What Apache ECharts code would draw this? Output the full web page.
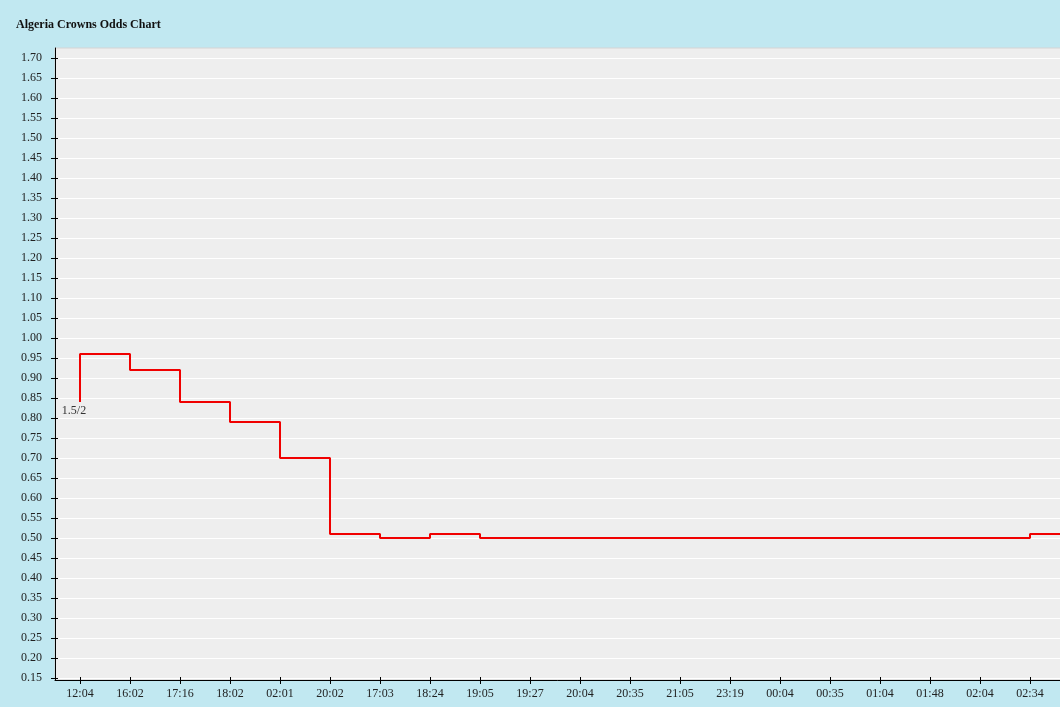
<!DOCTYPE html>
<html>
<head>
<meta charset="utf-8">
<script src="https://cdn.jsdelivr.net/npm/echarts@6/dist/echarts.min.js"></script>
<style>
html,body{margin:0;padding:0;background:#c1e8f1;}
#chart{width:1060px;height:707px;}
</style>
</head>
<body>
<div id="chart"></div>
<script>
const titleText = 'Algeria Crowns Odds Chart';
// 21st category lies beyond the right edge of the picture (its label is not visible)
const categories = ['12:04','16:02','17:16','18:02','02:01','20:02','17:03','18:24','19:05','19:27','20:04','20:35','21:05','23:19','00:04','00:35','01:04','01:48','02:04','02:34',''];
const oddsValues = [0.84,0.96,0.92,0.84,0.79,0.70,0.51,0.50,0.51,0.50,0.50,0.50,0.50,0.50,0.50,0.50,0.50,0.50,0.50,0.50,0.51];
const pointLabels = ['1.5/2'];
const yTicks = [0.15,0.20,0.25,0.30,0.35,0.40,0.45,0.50,0.55,0.60,0.65,0.70,0.75,0.80,0.85,0.90,0.95,1.00,1.05,1.10,1.15,1.20,1.25,1.30,1.35,1.40,1.45,1.50,1.55,1.60,1.65,1.70];

const FONT = '"Liberation Serif", "Times New Roman", serif';
const chart = echarts.init(document.getElementById('chart'), null, {renderer: 'canvas'});

const seriesData = oddsValues.map((v, i) => {
  if (i < pointLabels.length && pointLabels[i]) {
    return {
      value: v,
      label: {
        show: true, formatter: pointLabels[i], position: 'bottom', offset: [-6, -2],
        color: '#333', fontFamily: FONT, fontSize: 12
      }
    };
  }
  return v;
});

chart.setOption({
  animation: false,
  backgroundColor: '#c1e8f1',
  title: {
    text: titleText, left: 16, top: 19, padding: 0,
    textStyle: {fontFamily: FONT, fontSize: 12, fontWeight: 'bold', color: '#111'}
  },
  grid: {
    left: 55, width: 1050, top: 48, height: 632,
    outerBoundsMode: 'none',
    show: true, backgroundColor: '#eeeeee', borderColor: '#d4d4d4', borderWidth: 1,
    containLabel: false
  },
  xAxis: [{
    type: 'category', data: categories, boundaryGap: true, position: 'bottom',
    axisLine: {show: true, lineStyle: {color: '#000', width: 1}},
    axisTick: {show: true, alignWithLabel: true, inside: false, length: 4, lineStyle: {color: '#000'}},
    axisLabel: {color: '#222', fontFamily: FONT, fontSize: 12, margin: 8, interval: 0},
    splitLine: {show: false}
  }, {
    type: 'category', data: categories, boundaryGap: true, position: 'bottom',
    axisLine: {show: false},
    axisTick: {show: true, alignWithLabel: true, inside: true, length: 3, lineStyle: {color: '#000'}},
    axisLabel: {show: false},
    splitLine: {show: false}
  }],
  yAxis: [{
    type: 'value', min: 0.145, max: 1.725, position: 'left',
    axisLine: {show: true, lineStyle: {color: '#000', width: 1}},
    axisTick: {show: true, inside: false, length: 4, customValues: yTicks, lineStyle: {color: '#000'}},
    axisLabel: {customValues: yTicks, color: '#222', fontFamily: FONT, fontSize: 12, margin: 13,
      formatter: v => v.toFixed(2)},
    splitLine: {show: true, lineStyle: {color: '#ffffff', width: 1.2}}
  }, {
    type: 'value', min: 0.145, max: 1.725, position: 'left',
    axisLine: {show: false},
    axisTick: {show: true, inside: true, length: 3, customValues: yTicks, lineStyle: {color: '#000'}},
    axisLabel: {show: false},
    splitLine: {show: false}
  }],
  series: [{
    type: 'line', xAxisIndex: 0, yAxisIndex: 0, step: 'start',
    data: seriesData,
    symbol: 'circle', symbolSize: 0, showSymbol: true,
    itemStyle: {color: '#f00000'},
    lineStyle: {color: '#f00000', width: 2},
    emphasis: {disabled: true}
  }]
});
</script>
</body>
</html>
